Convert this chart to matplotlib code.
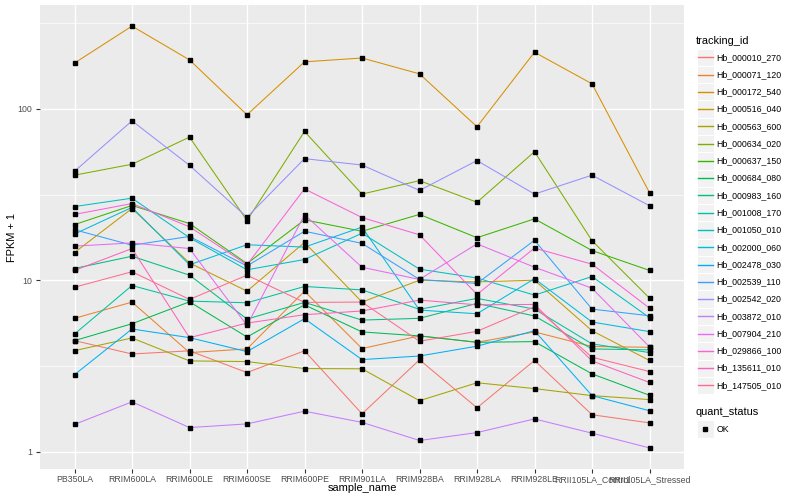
import matplotlib
matplotlib.use("Agg")
import matplotlib.pyplot as plt
from matplotlib.lines import Line2D
from matplotlib.patches import Rectangle
from matplotlib.ticker import FixedLocator, NullFormatter
import numpy as np

plt.rcParams['font.family'] = ['Liberation Sans', 'DejaVu Sans']

samples = ["PB350LA", "RRIM600LA", "RRIM600LE", "RRIM600SE", "RRIM600PE",
           "RRIM901LA", "RRIM928BA", "RRIM928LA", "RRIM928LE",
           "RRII105LA_Control", "RRII105LA_Stressed"]

tracking_ids = ["Hb_000010_270", "Hb_000071_120", "Hb_000172_540", "Hb_000516_040",
                "Hb_000563_600", "Hb_000634_020", "Hb_000637_150", "Hb_000684_080",
                "Hb_000983_160", "Hb_001008_170", "Hb_001050_010", "Hb_002000_060",
                "Hb_002478_030", "Hb_002539_110", "Hb_002542_020", "Hb_003872_010",
                "Hb_007904_210", "Hb_029866_100", "Hb_135611_010", "Hb_147505_010"]

colors = ["#F8766D", "#EA8331", "#D89000", "#C09B00", "#A3A500", "#7CAE00", "#39B600",
          "#00BB4E", "#00BF7D", "#00C1A3", "#00BFC4", "#00BAE0", "#00B0F6", "#35A2FF",
          "#9590FF", "#C77CFF", "#E76BF3", "#FA62DB", "#FF62BC", "#FF6C91"]

# FPKM + 1 values per tracking_id, in sample order
hb_000010_270 = [4.44, 3.71, 3.87, 2.89, 3.87, 1.66, 3.43, 1.80, 3.40, 1.64, 1.47]
hb_000071_120 = [5.99, 7.45, 3.78, 3.97, 8.63, 3.99, 4.73, 4.34, 4.99, 4.10, 4.06]
hb_000172_540 = [185, 304, 193, 92.3, 188, 198, 160, 78.6, 214, 140, 32.4]
hb_000516_040 = [14.5, 26.2, 12.6, 8.63, 16.6, 7.45, 10.0, 9.77, 10.0, 5.07, 3.40]
hb_000563_600 = [3.88, 4.60, 3.38, 3.35, 3.05, 3.04, 1.98, 2.52, 2.33, 2.12, 2.01]
hb_000634_020 = [41.0, 47.5, 68.4, 22.3, 73.8, 31.8, 38.1, 28.5, 56.2, 17.0, 7.86]
hb_000637_150 = [21.1, 27.3, 21.4, 12.5, 22.5, 19.3, 24.2, 17.7, 22.8, 14.9, 11.4]
hb_000684_080 = [4.44, 5.57, 7.48, 4.66, 7.18, 4.99, 4.73, 4.34, 4.38, 2.84, 2.13]
hb_000983_160 = [11.7, 13.8, 10.7, 5.93, 7.42, 5.85, 5.99, 7.32, 6.18, 3.97, 3.92]
hb_001008_170 = [4.85, 9.31, 7.55, 7.38, 9.19, 8.78, 6.76, 7.83, 6.78, 4.25, 3.78]
hb_001050_010 = [26.9, 30.1, 17.7, 11.5, 13.2, 18.8, 11.6, 10.3, 8.18, 10.5, 6.04]
hb_002000_060 = [18.6, 26.6, 12.3, 16.1, 15.6, 20.4, 6.69, 6.37, 10.2, 5.70, 5.01]
hb_002478_030 = [2.81, 5.19, 4.62, 3.83, 5.96, 3.44, 3.61, 4.12, 5.07, 2.12, 1.73]
hb_002539_110 = [19.7, 16.0, 18.0, 12.1, 19.3, 16.4, 10.1, 9.57, 17.1, 6.78, 6.20]
hb_002542_020 = [43.2, 85.1, 46.8, 23.3, 51.2, 47.0, 33.4, 49.9, 31.8, 41.0, 27.2]
hb_003872_010 = [1.44, 1.95, 1.38, 1.45, 1.72, 1.48, 1.16, 1.29, 1.55, 1.28, 1.05]
hb_007904_210 = [15.8, 16.5, 15.3, 5.44, 24.1, 11.9, 10.1, 16.3, 11.9, 8.98, 4.08]
hb_029866_100 = [24.2, 28.0, 20.5, 12.3, 34.1, 23.2, 18.4, 8.26, 15.4, 12.4, 6.87]
hb_135611_010 = [11.4, 15.3, 4.62, 5.62, 6.29, 6.61, 7.65, 7.18, 7.22, 3.38, 2.53]
hb_147505_010 = [9.10, 11.2, 7.72, 10.7, 7.42, 7.45, 4.40, 5.03, 7.00, 3.55, 2.93]

series = [hb_000010_270, hb_000071_120, hb_000172_540, hb_000516_040, hb_000563_600,
          hb_000634_020, hb_000637_150, hb_000684_080, hb_000983_160, hb_001008_170,
          hb_001050_010, hb_002000_060, hb_002478_030, hb_002539_110, hb_002542_020,
          hb_003872_010, hb_007904_210, hb_029866_100, hb_135611_010, hb_147505_010]

W, H = 800, 500
fig = plt.figure(figsize=(8, 5), dpi=100)
fig.patch.set_facecolor("white")
L, R, T, B = 40, 684, 5, 469
ax = fig.add_axes([L / W, 1 - B / H, (R - L) / W, (B - T) / H])
ax.set_facecolor("#EBEBEB")
for s in ax.spines.values():
    s.set_visible(False)

x = np.arange(len(samples))
for vals, c in zip(series, colors):
    ax.plot(x, vals, color=c, lw=0.75, zorder=3, solid_capstyle='butt')
for vals in series:
    ax.plot(x, vals, ls='none', marker='s', ms=2.8, color='black', zorder=4)

ax.set_yscale('log')
allv = np.log10(np.concatenate([np.array(v, float) for v in series]))
lo, hi = allv.min(), allv.max()
pad = 0.05 * (hi - lo)
ax.set_ylim(10 ** (lo - pad), 10 ** (hi + pad))
ax.set_xlim(-0.6, len(samples) - 1 + 0.6)

ax.yaxis.set_major_locator(FixedLocator([1, 10, 100]))
ax.set_yticklabels(["1", "10", "100"])
ax.yaxis.set_minor_locator(FixedLocator([10 ** 0.5, 10 ** 1.5, 10 ** 2.5]))
ax.yaxis.set_minor_formatter(NullFormatter())
ax.set_xticks(x)
ax.set_xticklabels(samples)

ax.grid(True, which='major', color='white', lw=1.0, zorder=1)
ax.grid(True, which='minor', axis='y', color='white', lw=0.5, zorder=1)
ax.set_axisbelow(True)
ax.tick_params(axis='both', which='major', length=3, width=0.8, color='#333333',
               labelcolor='#4D4D4D', labelsize=6.3)
ax.tick_params(axis='y', which='major', pad=2.5)
ax.tick_params(axis='x', which='major', pad=1.5)
ax.tick_params(axis='y', which='minor', length=0)

fig.text(362 / W, 1 - 488 / H, "sample_name", ha='center', va='center', fontsize=7.9, color='black')
fig.text(12 / W, 1 - 237 / H, "FPKM + 1", ha='center', va='center', rotation=90,
         fontsize=7.9, color='black')

# legend (drawn in figure pixel coordinates)
def fx(px):
    return px / W

def fy(py):
    return 1 - py / H

fig.text(fx(696), fy(40.7), "tracking_id", ha='left', va='center', fontsize=7.9, color='black')
step = 17.27
y0 = 57.3
kw = 17.0
for i, (tid, c) in enumerate(zip(tracking_ids, colors)):
    yc = y0 + i * step
    fig.add_artist(Rectangle((fx(696.5), fy(yc + step / 2)), kw / W, step / H,
                             transform=fig.transFigure, facecolor='#F2F2F2',
                             edgecolor='white', lw=0.8, zorder=5))
    fig.add_artist(Line2D([fx(698), fx(712.5)], [fy(yc), fy(yc)], transform=fig.transFigure,
                          color=c, lw=1.0, zorder=6))
    fig.text(fx(716.7), fy(yc), tid, ha='left', va='center', fontsize=6.3, color='black')

fig.text(fx(696), fy(412.3), "quant_status", ha='left', va='center', fontsize=7.9, color='black')
yc = 429
fig.add_artist(Rectangle((fx(696.5), fy(yc + step / 2)), kw / W, step / H,
                         transform=fig.transFigure, facecolor='#F2F2F2',
                         edgecolor='white', lw=0.8, zorder=5))
fig.add_artist(Line2D([fx(705)], [fy(yc)], transform=fig.transFigure, ls='none',
                      marker='s', ms=2.8, color='black', zorder=6))
fig.text(fx(716.7), fy(yc), "OK", ha='left', va='center', fontsize=6.3, color='black')

fig.savefig("out.png", dpi=100)
